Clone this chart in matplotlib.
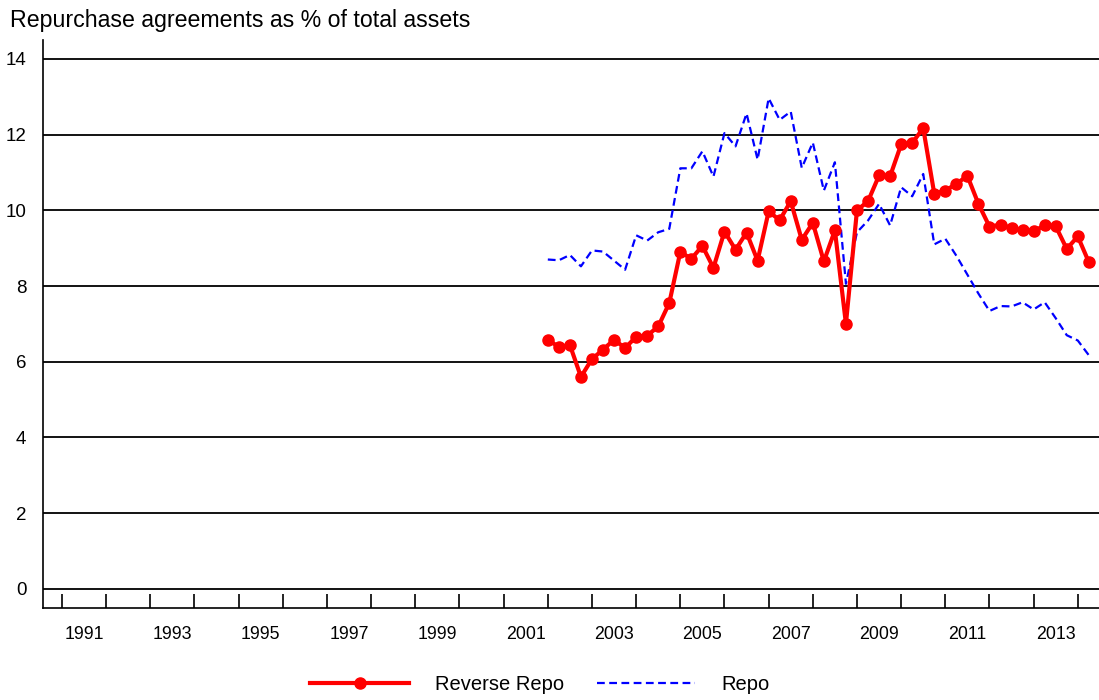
import matplotlib
matplotlib.use("Agg")
import matplotlib.pyplot as plt
import numpy as np

plt.rcParams['font.family'] = ['Liberation Sans', 'DejaVu Sans']

# quarterly observations, first one plotted at start of 2002
start_year = 2002.0
reverse_repo = [6.58, 6.39, 6.44, 5.60, 6.07, 6.32, 6.58, 6.36, 6.66, 6.69,
                6.93, 7.55, 8.90, 8.72, 9.06, 8.48, 9.44, 8.96, 9.41, 8.67,
                9.97, 9.74, 10.24, 9.22, 9.67, 8.65, 9.47, 7.00, 10.00, 10.24,
                10.92, 10.90, 11.74, 11.78, 12.17, 10.44, 10.52, 10.70, 10.91, 10.17,
                9.57, 9.62, 9.53, 9.47, 9.45, 9.60, 9.58, 8.98, 9.31, 8.63]
repo = [8.70, 8.68, 8.82, 8.52, 8.94, 8.91, 8.67, 8.43, 9.34, 9.20,
        9.42, 9.51, 11.11, 11.11, 11.56, 10.89, 12.04, 11.69, 12.56, 11.34,
        12.96, 12.39, 12.61, 11.12, 11.79, 10.52, 11.27, 8.06, 9.42, 9.73,
        10.17, 9.60, 10.61, 10.37, 10.96, 9.10, 9.25, 8.80, 8.30, 7.80,
        7.34, 7.47, 7.46, 7.57, 7.38, 7.57, 7.15, 6.70, 6.56, 6.17]
year_labels = list(range(1991, 2014, 2))

x = start_year + 0.25 * np.arange(len(reverse_repo))

fig = plt.figure(figsize=(10.99, 7.0), dpi=100)
ax = fig.add_axes([43/1099, 1 - 607.7/700, 1 - 43/1099, (607.7 - 40)/700])

ax.plot(x, repo, color='#0000ff', lw=1.6, dashes=(3.5, 2), label='Repo', zorder=3)
ax.plot(x, reverse_repo, color='#ff0000', lw=3, marker='o', ms=8,
        label='Reverse Repo', zorder=4)

ax.set_xlim(1990.57, 2014.48)
ax.set_ylim(-0.5, 14.5)
ax.set_yticks(range(0, 15, 2))
for v in range(0, 15, 2):
    ax.axhline(v, color='black', lw=1.3, zorder=1)

# year boundaries as ticks, labels in the middle of every other year
ax.set_xticks(range(1991, 2015))
ax.set_xticklabels([])
ax.set_xticks([y + 0.5 for y in year_labels], minor=True)
ax.set_xticklabels([str(y) for y in year_labels], minor=True)
ax.tick_params(axis='x', which='major', direction='in', length=10, width=1.2, color='black')
ax.tick_params(axis='x', which='minor', length=0, pad=13, labelsize=12.8)
ax.tick_params(axis='y', length=0, pad=12, labelsize=13.5)

for s in ['top', 'right']:
    ax.spines[s].set_visible(False)
ax.spines['left'].set_linewidth(1.2)
ax.spines['bottom'].set_linewidth(1.2)

fig.text(10/1099, 1 - 20/700, 'Repurchase agreements as % of total assets',
         fontsize=16.7, va='center', ha='left')

h, l = ax.get_legend_handles_labels()
fig.legend(h[::-1], l[::-1], loc='center', bbox_to_anchor=(540/1099, 1 - 685/700),
           ncol=2, frameon=False, fontsize=14.5, handlelength=4.9,
           handletextpad=1.3, columnspacing=1.6, numpoints=1)

fig.savefig('out.png', dpi=100)
